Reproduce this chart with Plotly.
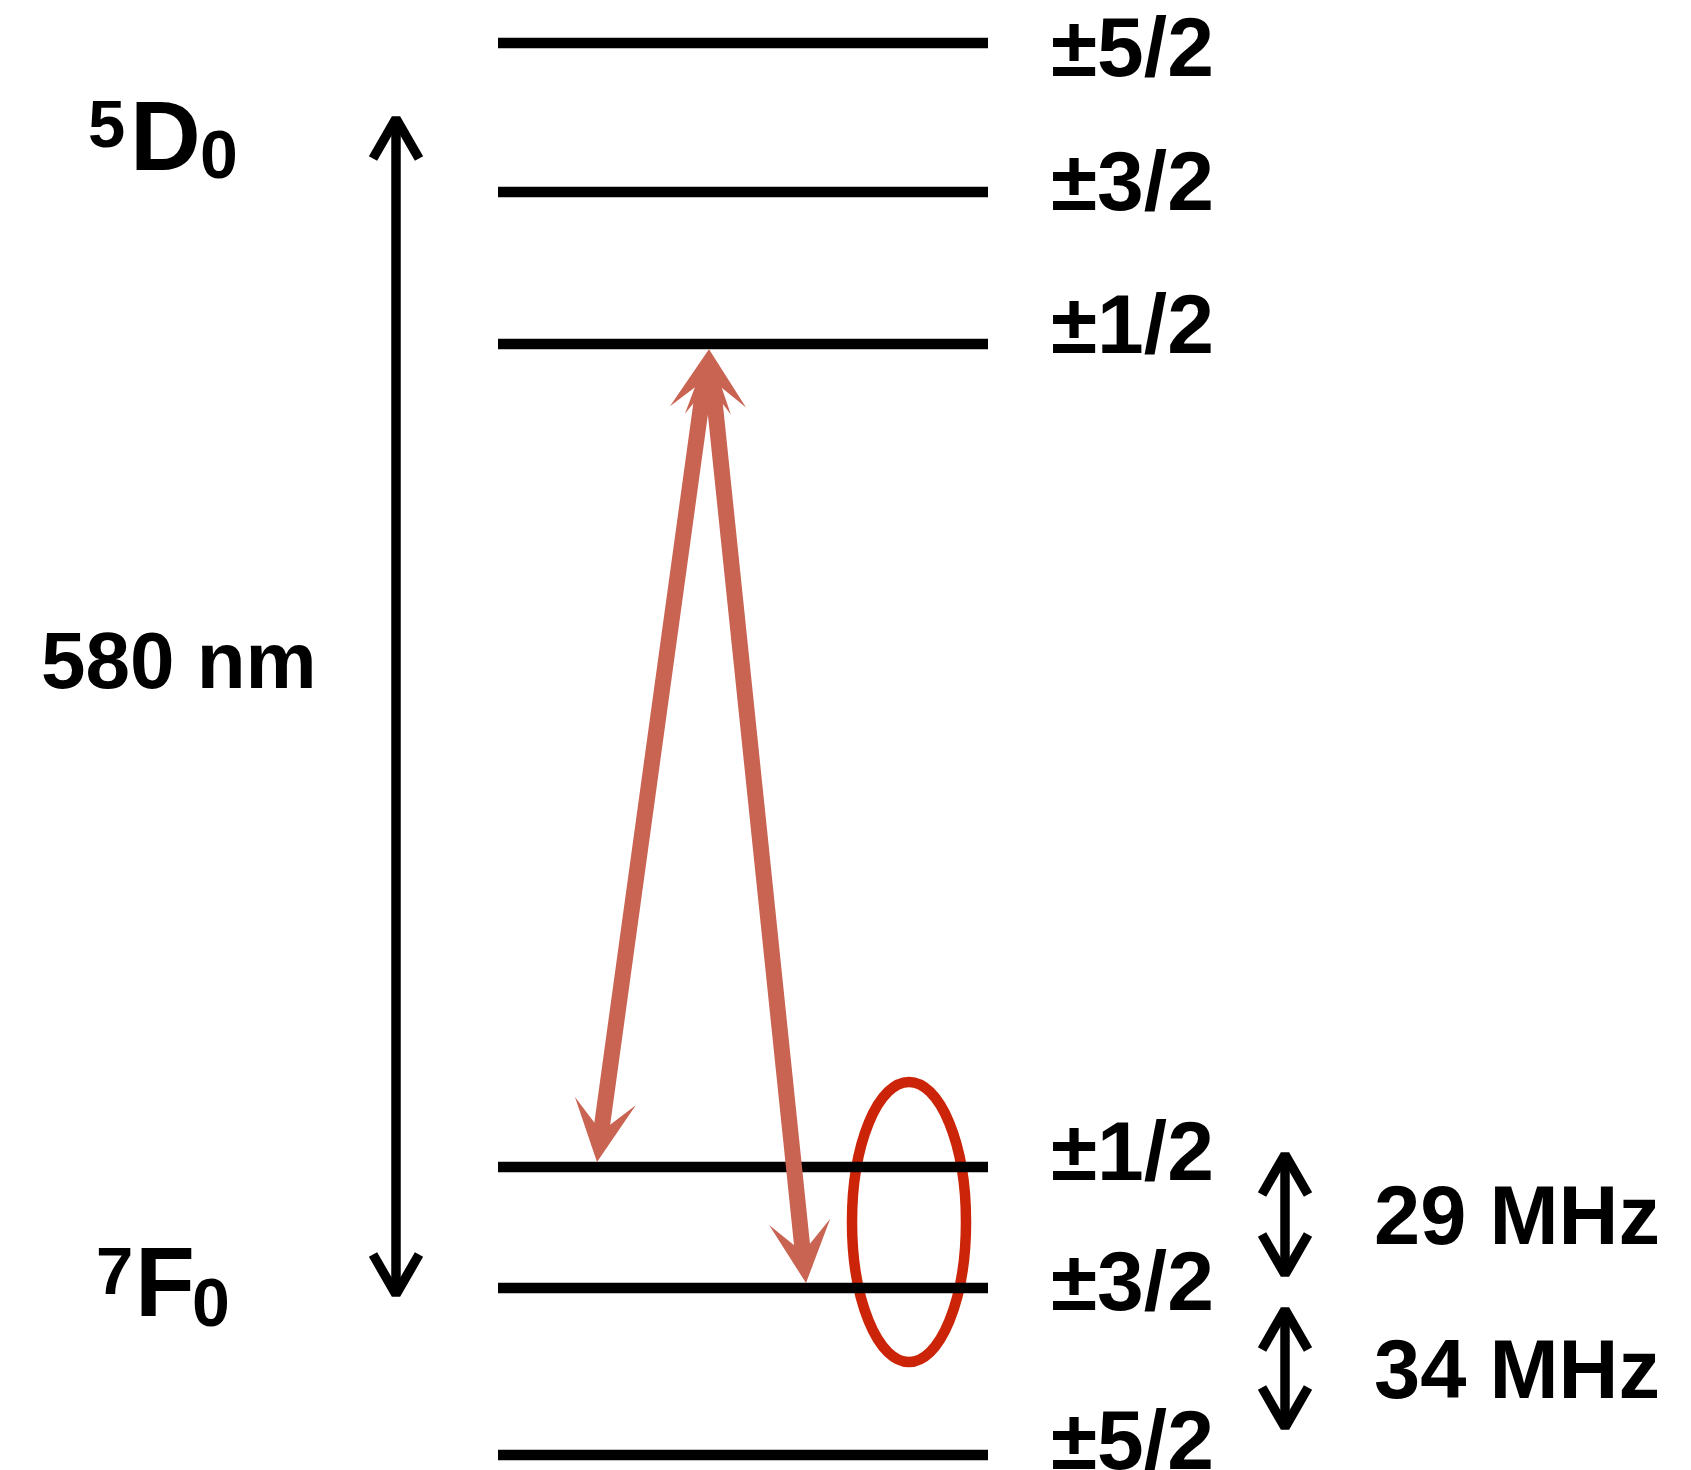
import plotly.graph_objects as go

# ---------------- data (diagram units, y grows downward) ----------------
upper_labels = ["±5/2", "±3/2", "±1/2"]          # 5D0 hyperfine sublevels
upper_level_y = [43, 192, 344]
upper_label_y = [47, 181, 324]

lower_labels = ["±1/2", "±3/2", "±5/2"]          # 7F0 hyperfine sublevels
lower_level_y = [1167, 1288, 1455]
lower_label_y = [1151, 1281, 1440]

level_x = [498, 988]
sublevel_label_x = 1049

# term symbols: (superscript, letter, subscript)
term_parts = [("5", "D", "0"), ("7", "F", "0")]
term_sup_xy = [(106, 123), (114, 1270)]
term_main_xy = [(165, 136), (165, 1282)]
term_sub_xy = [(219, 154), (211, 1302)]

# optical transition
optical_x = 396
optical_y = [116, 1297]
optical_label = "580 nm"
optical_label_xy = (179, 660)

# hyperfine splittings of the ground state
split_labels = ["29 MHz", "34 MHz"]
split_x = 1285
split_top = [1152, 1307]
split_bottom = [1277, 1430]
split_label_x = 1517
split_label_y = [1215, 1369]

# laser transitions (shared upper tip, two lower tips)
trans_top = (709, 348)
trans_bottom_x = [597, 806]
trans_bottom_y = [1162, 1283]

# marker ellipse
ellipse_center = (909, 1222)
ellipse_radii = (57, 140)

# ---------------- styles ----------------
FONT = "Liberation Sans, Arial, Helvetica, sans-serif"
BLACK = "#000000"
SALMON = "#C96352"
RED = "#CB2408"
W, H = 1691, 1470

fig = go.Figure()

# energy levels
xs, ys = [], []
for y in upper_level_y + lower_level_y:
    xs += [level_x[0], level_x[1], None]
    ys += [y, y, None]
fig.add_trace(go.Scatter(x=xs, y=ys, mode="lines",
                         line=dict(color=BLACK, width=10.5),
                         hoverinfo="skip", showlegend=False))

# ellipse (below the level lines)
cx, cy = ellipse_center
rx, ry = ellipse_radii
fig.add_shape(type="circle", xref="x", yref="y",
              x0=cx - rx, x1=cx + rx, y0=cy - ry, y1=cy + ry,
              line=dict(color=RED, width=10.5), layer="below")

# black double arrows with open V heads (drawn as polylines)
AW = 9.5            # stroke width
HW, HL = 23, 40     # head half-width / length (centre-line)
TIP_INSET = 2.5     # vertex inset so the joined tip lands on the end point

def black_double(x, y_top, y_bot):
    t = y_top + TIP_INSET
    b = y_bot - TIP_INSET
    ax_, ay_ = [], []
    ax_ += [x, x, None]
    ay_ += [t + 3, b - 3, None]
    ax_ += [x - HW, x, x + HW, None]
    ay_ += [t + HL, t, t + HL, None]
    ax_ += [x - HW, x, x + HW, None]
    ay_ += [b - HL, b, b - HL, None]
    fig.add_trace(go.Scatter(x=ax_, y=ay_, mode="lines",
                             line=dict(color=BLACK, width=AW),
                             hoverinfo="skip", showlegend=False))

black_double(optical_x, optical_y[0], optical_y[1])
for t_, b_ in zip(split_top, split_bottom):
    black_double(split_x, t_, b_)

annotations = []

def txt(x, y, s, size, xanchor="center"):
    annotations.append(dict(x=x, y=y, xref="x", yref="y", text=s,
                            showarrow=False, xanchor=xanchor, yanchor="middle",
                            font=dict(family=FONT, size=size, color=BLACK,
                                      weight="bold")))

for lab, y in zip(upper_labels, upper_label_y):
    txt(sublevel_label_x, y, lab, 84, "left")
for lab, y in zip(lower_labels, lower_label_y):
    txt(sublevel_label_x, y, lab, 84, "left")

for parts, sxy, mxy, bxy in zip(term_parts, term_sup_xy, term_main_xy, term_sub_xy):
    txt(sxy[0], sxy[1], parts[0], 67)
    txt(mxy[0], mxy[1], parts[1], 98)
    txt(bxy[0], bxy[1], parts[2], 68)

txt(optical_label_xy[0], optical_label_xy[1], optical_label, 80)
for lab, y in zip(split_labels, split_label_y):
    txt(split_label_x, y, lab, 83)

# salmon double arrows (barbed heads)
RW, RS = 16, 0.64
for bx, by in zip(trans_bottom_x, trans_bottom_y):
    annotations.append(dict(
        x=bx, y=by, ax=trans_top[0], ay=trans_top[1],
        xref="x", yref="y", axref="x", ayref="y", text="",
        showarrow=True, arrowside="end+start",
        arrowhead=3, startarrowhead=3, arrowsize=RS, startarrowsize=RS,
        arrowwidth=RW, arrowcolor=SALMON, standoff=0, startstandoff=0))

fig.update_layout(
    width=W, height=H,
    margin=dict(l=0, r=0, t=0, b=0),
    paper_bgcolor="white", plot_bgcolor="white",
    xaxis=dict(range=[0, W], visible=False, fixedrange=True),
    yaxis=dict(range=[H, 0], visible=False, fixedrange=True),
    annotations=annotations,
    showlegend=False,
)

fig.write_html("out.html")
